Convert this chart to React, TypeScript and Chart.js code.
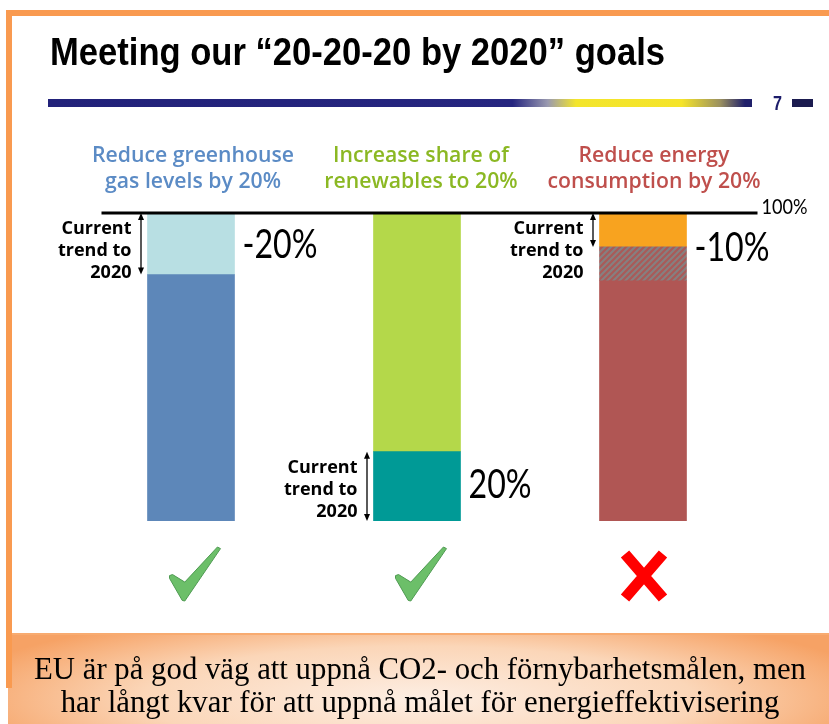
import React, { useEffect, useRef } from "react";
import { Chart, registerables } from "chart.js";

Chart.register(...registerables);

// ---------- data ----------
const categories = ["Greenhouse gas", "Renewables", "Energy consumption"];
const headerLines = [
  ["Reduce greenhouse", "gas levels by 20%"],
  ["Increase share of", "renewables to 20%"],
  ["Reduce energy", "consumption by 20%"],
];
const baseValues = [80, 22.5, 78];
const middleValues = [20, 77.5, 11];
const topValues = [0, 0, 11];
const trendFrom = [100, 22.5, 100];
const trendTo = [80, 0, 89];
const pctLabels = ["-20%", "20%", "-10%"];
const pctLabelAt = [90, 12, 89];
const goalMet = [true, true, false];
const refLevel = 100;
const refLevelLabel = "100%";
const titleText = "Meeting our \u201C20-20-20 by 2020\u201D goals";
const trendText = ["Current", "trend to", "2020"];
const footerLines = [
  "EU är på god väg att uppnå CO2- och förnybarhetsmålen, men",
  "har långt kvar för att uppnå målet för energieffektivisering",
];

// ---------- styles ----------
const baseColors = ["#5d87b9", "#009a96", "#b05654"];
const middleColors = ["#b8dfe3", "#b4d84a", "hatch"];
const topColors = ["rgba(0,0,0,0)", "rgba(0,0,0,0)", "#f8a31f"];
const headerColors = ["#5b8bc5", "#8bb823", "#bf4f4c"];
const headerDx = [2, 4, 11];

function makeHatch(): CanvasPattern | string {
  const c = document.createElement("canvas");
  c.width = 6;
  c.height = 6;
  const g = c.getContext("2d");
  if (!g) return "#9a6a6a";
  g.fillStyle = "#a95a58";
  g.fillRect(0, 0, 6, 6);
  g.strokeStyle = "#868080";
  g.lineWidth = 2.1;
  g.beginPath();
  g.moveTo(-1, 7); g.lineTo(7, -1);
  g.moveTo(-4, 4); g.lineTo(4, -4);
  g.moveTo(2, 10); g.lineTo(10, 2);
  g.stroke();
  const p = g.createPattern(c, "repeat");
  return p || "#9a6a6a";
}

function txt(ctx: CanvasRenderingContext2D, s: string, x: number, y: number, font: string, color: string, align: CanvasTextAlign, sx = 1) {
  ctx.save();
  ctx.font = font;
  ctx.fillStyle = color;
  ctx.textBaseline = "alphabetic";
  ctx.textAlign = align;
  ctx.translate(x, y);
  ctx.scale(sx, 1);
  ctx.fillText(s, 0, 0);
  ctx.restore();
}
function fit(ctx: CanvasRenderingContext2D, font: string, s: string, w: number) {
  ctx.save();
  ctx.font = font;
  const m = ctx.measureText(s).width;
  ctx.restore();
  return m > 0 ? w / m : 1;
}

function arrow(ctx: CanvasRenderingContext2D, x: number, y1: number, y2: number) {
  const top = Math.min(y1, y2), bot = Math.max(y1, y2);
  ctx.save();
  ctx.strokeStyle = "#000";
  ctx.fillStyle = "#000";
  ctx.lineWidth = 1.3;
  ctx.beginPath();
  ctx.moveTo(x, top + 5);
  ctx.lineTo(x, bot - 5);
  ctx.stroke();
  ctx.beginPath();
  ctx.moveTo(x, top); ctx.lineTo(x - 3, top + 7); ctx.lineTo(x + 3, top + 7); ctx.closePath();
  ctx.fill();
  ctx.beginPath();
  ctx.moveTo(x, bot); ctx.lineTo(x - 3, bot - 7); ctx.lineTo(x + 3, bot - 7); ctx.closePath();
  ctx.fill();
  ctx.restore();
}

const checkPts = [[0, 0.53], [0.06, 0.51], [0.3, 0.65], [0.94, 0], [1, 0.03], [0.3, 1], [0.25, 0.99], [0, 0.58]];
function check(ctx: CanvasRenderingContext2D, cx: number, top: number) {
  const w = 51, h = 54, x0 = cx - w / 2;
  ctx.save();
  ctx.beginPath();
  checkPts.forEach(([px, py], i) => {
    const X = x0 + px * w, Y = top + py * h;
    if (i === 0) ctx.moveTo(X, Y); else ctx.lineTo(X, Y);
  });
  ctx.closePath();
  ctx.fillStyle = "#6cbf69";
  ctx.fill();
  ctx.strokeStyle = "#4f9a52";
  ctx.lineWidth = 1;
  ctx.stroke();
  ctx.restore();
}
function cross(ctx: CanvasRenderingContext2D, cx: number, cy: number) {
  ctx.save();
  ctx.strokeStyle = "#ff0000";
  ctx.lineWidth = 11;
  ctx.lineCap = "butt";
  ctx.beginPath();
  ctx.moveTo(cx - 19, cy - 22); ctx.lineTo(cx + 19, cy + 22);
  ctx.moveTo(cx + 19, cy - 22); ctx.lineTo(cx - 19, cy + 22);
  ctx.stroke();
  ctx.restore();
}

const decorPlugin = {
  id: "decor",
  afterDraw(chart: any) {
    const ctx: CanvasRenderingContext2D = chart.ctx;
    const yS = chart.scales.y;
    const meta = chart.getDatasetMeta(0);
    const bars = meta.data.map((el: any) => ({ x: el.x, w: el.width }));

    // title
    const tFont = "bold 39px 'Liberation Sans', Arial, sans-serif";
    txt(ctx, titleText, 50, 65, tFont, "#000", "left", fit(ctx, tFont, titleText, 615));

    // decorative bar
    const g = ctx.createLinearGradient(48, 0, 752, 0);
    g.addColorStop(0, "#22227a");
    g.addColorStop(0.66, "#262680");
    g.addColorStop(0.71, "#9a9ab0");
    g.addColorStop(0.75, "#f3e52c");
    g.addColorStop(0.9, "#f5e42a");
    g.addColorStop(0.955, "#9a9060");
    g.addColorStop(0.99, "#20206a");
    ctx.fillStyle = g;
    ctx.fillRect(48, 99, 704, 8);
    const sevFont = "bold 21px 'Liberation Sans', Arial, sans-serif";
    txt(ctx, "7", 777.5, 110, sevFont, "#1c1c6a", "center", fit(ctx, sevFont, "7", 9));
    ctx.fillStyle = "#1b1b4f";
    ctx.fillRect(792, 99, 21, 8);

    // headers
    const hFont = "600 21px 'Open Sans', sans-serif";
    const hsx = fit(ctx, hFont, headerLines[0][0], 202);
    headerLines.forEach((lines, i) => {
      lines.forEach((l, j) => txt(ctx, l, bars[i].x + headerDx[i], 162 + j * 26, hFont, headerColors[i], "center", hsx));
    });

    // reference line 100%
    const yRef = yS.getPixelForValue(refLevel);
    ctx.save();
    ctx.strokeStyle = "#000";
    ctx.lineWidth = 3;
    ctx.beginPath();
    ctx.moveTo(bars[0].x - bars[0].w / 2 - 46, yRef);
    ctx.lineTo(bars[2].x + bars[2].w / 2 + 71, yRef);
    ctx.stroke();
    ctx.restore();
    const rFont = "21px Lato, sans-serif";
    txt(ctx, refLevelLabel, bars[2].x + bars[2].w / 2 + 75, yRef + 1, rFont, "#000", "left", fit(ctx, rFont, refLevelLabel, 46));

    // trend arrows + labels
    const cFont = "bold 17px 'Open Sans', sans-serif";
    const csx = fit(ctx, cFont, "Current", 70);
    bars.forEach((b: any, i: number) => {
      const ax = b.x - b.w / 2 - 6.5;
      const y1 = yS.getPixelForValue(trendFrom[i]);
      const y2 = yS.getPixelForValue(trendTo[i]);
      arrow(ctx, ax, y1, y2);
      const mid = (y1 + y2) / 2;
      const second = Math.max(mid + 9, 256);
      trendText.forEach((t, j) => txt(ctx, t, ax - 9.5, second + (j - 1) * 22, cFont, "#000", "right", csx));
    });

    // percent labels
    const pFont = "40px Lato, sans-serif";
    const psx = fit(ctx, pFont, "-20%", 75);
    bars.forEach((b: any, i: number) => {
      const yy = yS.getPixelForValue(pctLabelAt[i]);
      txt(ctx, pctLabels[i], b.x + b.w / 2 + 8, yy + 14, pFont, "#000", "left", psx);
    });

    // check / cross
    bars.forEach((b: any, i: number) => {
      if (goalMet[i]) check(ctx, b.x + 4, 547);
      else cross(ctx, b.x + 1, 576);
    });

    // footer
    const fFont = "31px 'Liberation Serif', 'Times New Roman', serif";
    const fsx = fit(ctx, fFont, footerLines[0], 772);
    footerLines.forEach((l, j) => txt(ctx, l, 420, 679 + j * 33, fFont, "#000", "center", fsx));
  },
};

export default function App() {
  const ref = useRef<HTMLCanvasElement>(null);
  useEffect(() => {
    if (!ref.current) return;
    const hatch = makeHatch();
    const mid = middleColors.map((c) => (c === "hatch" ? hatch : c));
    const chart = new Chart(ref.current, {
      type: "bar",
      data: {
        labels: categories,
        datasets: [
          { label: "base", data: baseValues, backgroundColor: baseColors, borderWidth: 0, barThickness: 87 },
          { label: "middle", data: middleValues, backgroundColor: mid as any, borderWidth: 0, barThickness: 87 },
          { label: "top", data: topValues, backgroundColor: topColors, borderWidth: 0, barThickness: 87 },
        ],
      },
      options: {
        responsive: false,
        animation: false,
        devicePixelRatio: 1,
        layout: { padding: { left: 78, right: 73, top: 213, bottom: 203 } },
        plugins: { legend: { display: false }, tooltip: { enabled: false }, title: { display: false } },
        scales: {
          x: { stacked: true, display: false },
          y: { stacked: true, display: false, min: 0, max: 100 },
        },
      },
      plugins: [decorPlugin],
    });
    return () => chart.destroy();
  }, []);

  return (
    <div style={{ position: "absolute", left: 0, top: 0, width: 829, height: 724, background: "#fff", overflow: "hidden" }}>
      <div style={{ position: "absolute", left: 8, top: 633, width: 821, height: 91,
        background: "radial-gradient(ellipse 58% 100% at 50% 70%, #fdeee3 0%, #fbd6b8 58%, #f6a265 100%)",
        borderTop: "2px solid #f8ab70" }} />
      <div style={{ position: "absolute", left: 6, top: 10, width: 823, height: 6, background: "#f99a50" }} />
      <div style={{ position: "absolute", left: 6, top: 10, width: 6, height: 678, background: "#f99a50" }} />
      <canvas ref={ref} width={829} height={724} style={{ position: "absolute", left: 0, top: 0 }} />
    </div>
  );
}
